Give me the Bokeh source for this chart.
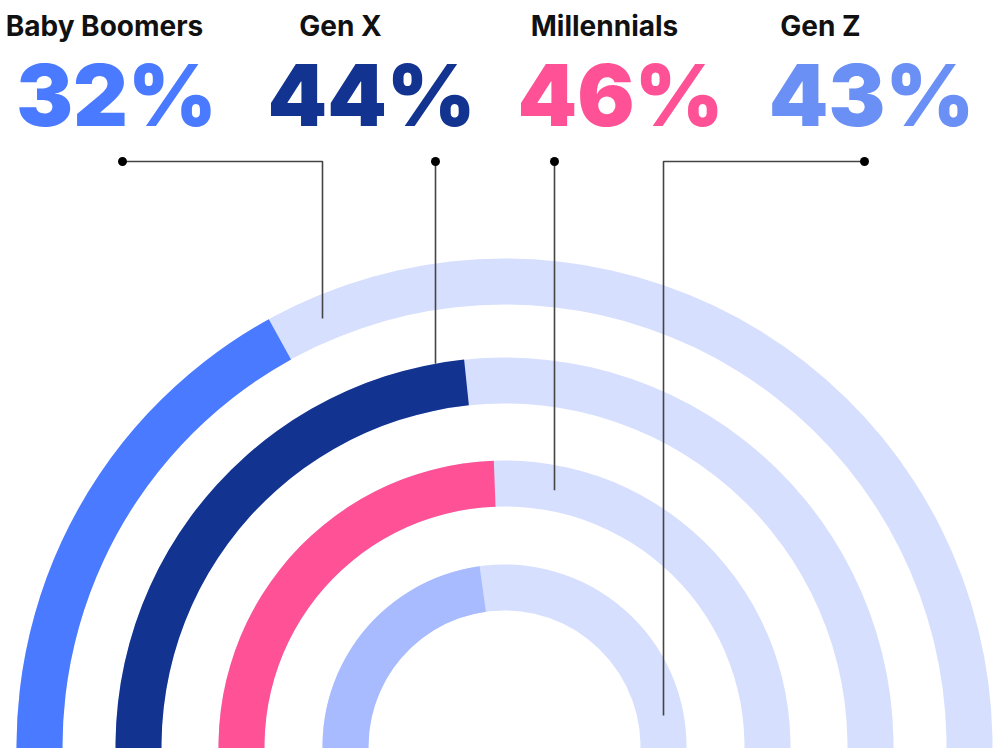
from bokeh.plotting import figure
from bokeh.models import Range1d, ColumnDataSource
from bokeh.core.properties import value
from bokeh.embed import file_html
from bokeh.resources import INLINE
import math

# ---- data ----
generations = ["Baby Boomers", "Gen X", "Millennials", "Gen Z"]
shares = [32, 44, 46, 43]  # percent
pct_labels = ["32%", "44%", "46%", "43%"]

# ---- styles ----
fill_colors = ["#4a7aff", "#12338f", "#fe5196", "#a8bbff"]
text_colors = ["#4a7aff", "#12338f", "#fe5196", "#6b90f5"]
track_color = "#d6dffd"
line_color = "#444444"
font = value("'Inter Black', 'Lato Black', Inter")
label_font = value("Inter")

# ---- layout (screen px; y measured from top) ----
W, H = 998, 748
CX, CY = 504, 746
outer_r = [488, 389, 286, 182]
ring_w = 46
full_scale_deg = 191  # angular span that corresponds to 100%
label_x = [104, 340, 604, 820]
pct_x = [116, 371, 620, 871]
label_base_y = 25
pct_base_y = 95
dot_y = 161
dot_x = [122, 435, 554, 864]
leader_x = [322, 435, 554, 663]
leader_end_r = [465, 389, 261, 162]


def up(y):
    return H - y


p = figure(width=W, height=H, x_range=Range1d(0, W), y_range=Range1d(0, H),
           output_backend="svg", toolbar_location=None, min_border=0)
p.axis.visible = False
p.grid.visible = False
p.outline_line_color = None
p.background_fill_color = "white"
p.border_fill_color = "white"

n = len(generations)
inner_r = [r - ring_w for r in outer_r]

# background tracks
p.annular_wedge(x=[CX] * n, y=[up(CY)] * n, inner_radius=inner_r, outer_radius=outer_r,
                start_angle=[-0.2] * n, end_angle=[math.pi + 0.2] * n,
                color=track_color, line_color=None)

# filled portion (from the left end, clockwise)
starts = [math.pi + 0.2] * n
ends = [math.pi - s / 100 * math.radians(full_scale_deg) for s in shares]
src = ColumnDataSource(dict(x=[CX] * n, y=[up(CY)] * n, ir=inner_r, orr=outer_r,
                            sa=ends, ea=starts, c=fill_colors))
p.annular_wedge(x="x", y="y", inner_radius="ir", outer_radius="orr",
                start_angle="sa", end_angle="ea", color="c", line_color=None, source=src)

# leader lines
for i in range(n):
    dx = leader_x[i] - CX
    yend = CY - math.sqrt(leader_end_r[i] ** 2 - dx ** 2)
    xs = [dot_x[i], leader_x[i], leader_x[i]]
    ys = [up(dot_y), up(dot_y), up(yend)]
    p.line(xs, ys, line_color=line_color, line_width=1.6)
p.scatter(x=dot_x, y=[up(dot_y)] * n, size=9, color="black", line_color=None)

# texts
lsrc = ColumnDataSource(dict(x=label_x, y=[up(label_base_y)] * n, t=generations))
p.text(x="x", y="y", text="t", source=lsrc, text_font=label_font, text_font_style="bold",
       text_font_size="28px", text_color="#111111", text_align="center",
       text_baseline="alphabetic")
psrc = ColumnDataSource(dict(x=pct_x, y=[up(pct_base_y)] * n, t=pct_labels, c=text_colors))
p.text(x="x", y="y", text="t", source=psrc, text_font=font, text_font_style="bold",
       text_font_size="85px", text_color="c", text_align="center",
       text_baseline="alphabetic")

open("out.html", "w").write(file_html(p, INLINE))
